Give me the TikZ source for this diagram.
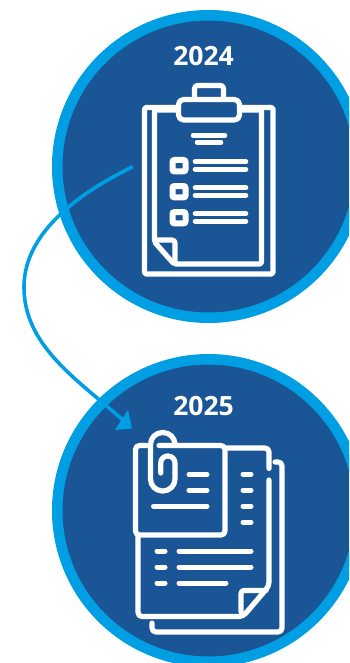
\documentclass[tikz,border=0pt]{standalone}
\usepackage{fontspec}
\setmainfont{Open Sans}
\definecolor{ringblue}{HTML}{009FE3}
\definecolor{discblue}{HTML}{1A5696}
\tikzset{
  disc/.style={circle,draw=ringblue,fill=discblue,line width=10.5pt,inner sep=0pt,minimum size=302.5pt},
  yearlabel/.style={text=white,font=\fontsize{26.5}{26.5}\selectfont\bfseries,inner sep=0pt},
  ico/.style={draw=white,line width=5.2pt,line cap=round,line join=round},
  icothin/.style={draw=white,line width=5pt,line cap=round},
  link/.style={draw=ringblue,line width=3.6pt},
}
\begin{document}
\begin{tikzpicture}[x=1pt,y=-1pt]
\useasboundingbox (0,0) rectangle (349,663);
\clip (0,0) rectangle (349,663);
\fill[white] (0,0) rectangle (349,663);
\node[disc] (disc24) at (208.5,166.5) {};
\node[disc] (disc25) at (208.5,510.5) {};
\node[yearlabel] (y24) at (203.5,56) {2024};
\node[yearlabel] (y25) at (203.5,406) {2025};
% clipboard
\draw[ico,rounded corners=1.5pt] (178,107.5) -- (144.5,107.5) -- (144.5,274) -- (273,274) -- (273,107.5) -- (240,107.5);
\draw[ico,rounded corners=3pt] (194.5,97) -- (194.5,85.5) -- (223.5,85.5) -- (223.5,97);
\draw[ico,rounded corners=5pt] (178.5,99.5) rectangle (239.5,120);
\draw[ico,rounded corners=2pt] (178,110) -- (154.5,110) -- (154.5,242) -- (174,264) -- (261.5,264) -- (261.5,110) -- (240,110);
\draw[ico,rounded corners=3pt] (155,240) -- (175,240) -- (175,262);
\draw[icothin,line width=4.5pt] (193,135.5) -- (225,135.5);
\draw[icothin,line width=4.5pt] (197,142.5) -- (221,142.5);
\foreach \yy in {165.7,191.7,217.7}{
  \draw[draw=white,line width=6pt,rounded corners=2pt] (172.5,\yy-5.7) rectangle (185.5,\yy+5.7);
  \draw[icothin,line width=4.6pt] (195,\yy-4) -- (246,\yy-4);
  \draw[icothin,line width=4.6pt] (195,\yy+3.6) -- (246,\yy+3.6);
}
% documents
\draw[ico,rounded corners=4pt] (159,445.5) -- (225,445.5) -- (225,535) -- (135.5,535) -- (135.5,445.5) -- (147,445.5);
\draw[ico,rounded corners=7pt] (160.7,473) -- (160.7,456) -- (175,456) -- (175,472);
\draw[ico,rounded corners=12pt] (175,472) -- (175,491) -- (150.5,491) -- (150.5,432.5) -- (175,432.5) -- (175,443);
\draw[ico,rounded corners=4pt] (226,448) -- (269,448) -- (269,468.5);
\draw[ico,rounded corners=4pt] (275,462) -- (282,462) -- (282,632) -- (152,632) -- (152,623);
\draw[ico,rounded corners=4pt] (269,480) -- (269,586) -- (243,616.5) -- (138,616.5) -- (138,535);
\draw[ico,rounded corners=3pt] (266,590.5) -- (241,590.5) -- (241,612);
\draw[icothin] (189,474.5) -- (207,474.5);
\draw[icothin] (189,490.3) -- (207,490.3);
\draw[icothin] (153.5,506.3) -- (207,506.3);
\foreach \yy in {474.3,490.3,506.3,522.3}{\draw[icothin] (243,\yy) -- (251,\yy);}
\foreach \yy in {551,567,583}{\draw[icothin] (157,\yy) -- (165,\yy);}
\draw[icothin] (179,551) -- (251,551);
\draw[icothin] (179,567) -- (251,567);
\draw[icothin] (179,583) -- (226,583);
% connector
\coordinate (linkstart) at (132.7,166.7);
\coordinate (linkend) at (123,420);
\coordinate (linktip) at (132,428.5);
\draw[link] (linkstart) .. controls (85,190) and (24,230) .. (24,287) .. controls (24,345) and (75,378) .. (linkend);
\fill[ringblue] (linktip) -- (128,410) -- (115,430) -- cycle;
\end{tikzpicture}
\end{document}
